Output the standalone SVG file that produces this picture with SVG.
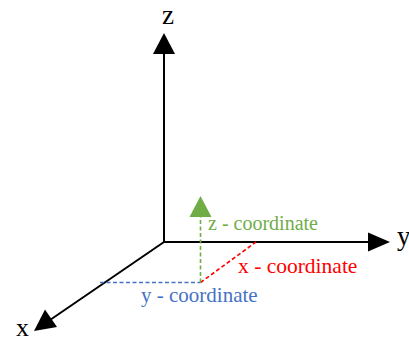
<svg xmlns="http://www.w3.org/2000/svg" width="409" height="342" viewBox="0 0 409 342">
<style>
.axis{stroke:#000;stroke-width:2;fill:none}
.head{fill:#000}
text{font-family:"Liberation Serif","Times New Roman",serif}
.lbl{fill:#000}
.dash{stroke-width:1.6;stroke-dasharray:4 2.5;fill:none}
</style>
<rect width="409" height="342" fill="#fff"/>
<g id="connectors">
<line class="axis" x1="164" y1="242" x2="164" y2="52"/>
<polygon class="head" points="164,33 153,54 175,54"/>
<line class="axis" x1="163" y1="242" x2="369" y2="242"/>
<polygon class="head" points="390,242 368,232.5 368,251.5"/>
<line class="axis" x1="164" y1="242" x2="50" y2="320"/>
<polygon class="head" points="34,331 45,309.5 57,327"/>
<line class="dash" stroke="#4472c4" x1="100" y1="282.5" x2="200.5" y2="282.5"/>
<line class="dash" stroke="#ff0000" x1="200.5" y1="282.5" x2="256" y2="242"/>
<line class="dash" stroke="#70ad47" x1="200.5" y1="282.5" x2="200.5" y2="215"/>
<polygon fill="#70ad47" points="200.5,196 189.5,217 211.5,217"/>
</g>
<g id="label-z"><text class="lbl" x="168" y="24" font-size="27" text-anchor="middle">z</text></g>
<g id="label-y"><text class="lbl" x="397" y="245" font-size="27">y</text></g>
<g id="label-x"><text class="lbl" x="16" y="336" font-size="26">x</text></g>
<g id="label-zc"><text x="208" y="230" font-size="20" fill="#70ad47">z - coordinate</text></g>
<g id="label-xc"><text x="238" y="273" font-size="21.5" fill="#ff0000">x - coordinate</text></g>
<g id="label-yc"><text x="141" y="302" font-size="21" fill="#4472c4">y - coordinate</text></g>
</svg>
